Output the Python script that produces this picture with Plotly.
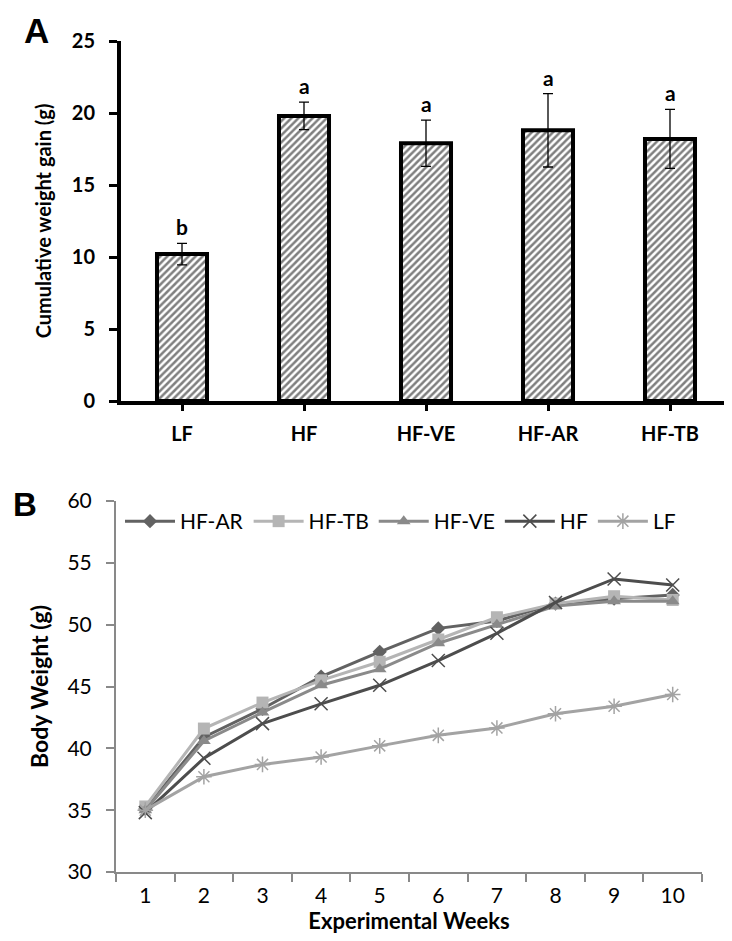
import plotly.graph_objects as go

# ---- Panel A data ----
categories = ["LF", "HF", "HF-VE", "HF-AR", "HF-TB"]
gain = [10.2, 19.8, 17.9, 18.8, 18.2]
gain_err = [0.75, 0.95, 1.6, 2.55, 2.05]
letters = ["b", "a", "a", "a", "a"]

# ---- Panel B data ----
weeks = ["1", "2", "3", "4", "5", "6", "7", "8", "9", "10"]
hf_ar = [35.1, 40.9, 43.2, 45.8, 47.8, 49.7, 50.3, 51.7, 52.1, 52.4]
hf_tb = [35.3, 41.6, 43.7, 45.5, 47.0, 48.8, 50.6, 51.7, 52.3, 52.0]
hf_ve = [35.0, 40.6, 42.9, 45.1, 46.4, 48.5, 50.0, 51.5, 51.9, 51.9]
hf = [34.8, 39.2, 42.0, 43.6, 45.1, 47.1, 49.3, 51.8, 53.7, 53.2]
lf = [35.0, 37.7, 38.7, 39.3, 40.2, 41.05, 41.65, 42.8, 43.4, 44.35]

W, H = 732, 941
FONT = "Lato"

fig = go.Figure()

fig.add_trace(go.Bar(
    x=categories, y=gain, xaxis="x", yaxis="y", width=0.41,
    marker=dict(color="white", line=dict(color="black", width=4),
                pattern=dict(shape="/", fgcolor="black", bgcolor="white", size=5, solidity=0.5)),
    error_y=dict(type="data", array=gain_err, color="black", thickness=1.3, width=5),
    showlegend=False,
))

series = [
    ("HF-AR", hf_ar, "#626262", dict(symbol="diamond", size=11, color="#626262")),
    ("HF-TB", hf_tb, "#b5b5b5", dict(symbol="square", size=12, color="#b5b5b5")),
    ("HF-VE", hf_ve, "#8a8a8a", dict(symbol="triangle-up", size=12, color="#8a8a8a")),
    ("HF", hf, "#4d4d4d", dict(symbol="x-thin-open", size=13, color="#4d4d4d", line=dict(color="#4d4d4d", width=1.5))),
    ("LF", lf, "#a3a3a3", dict(symbol="asterisk-open", size=13, color="#a3a3a3", line=dict(color="#a3a3a3", width=1.5))),
]
for name, vals, col, mk in series:
    fig.add_trace(go.Scatter(
        x=weeks, y=vals, name=name, xaxis="x2", yaxis="y2", mode="lines+markers",
        line=dict(color=col, width=3), marker=mk,
    ))

annotations = []
for c, v, e, t in zip(categories, gain, gain_err, letters):
    annotations.append(dict(x=c, y=v + e, xref="x", yref="y", text=t, showarrow=False,
                            yanchor="bottom", yshift=2,
                            font=dict(family=FONT, size=21, color="black", weight="bold")))
annotations.append(dict(x=weeks[-1], y=lf[-1], xref="x2", yref="y2", text="*", showarrow=False,
                        xanchor="left", xshift=8, yshift=-5,
                        font=dict(family=FONT, size=28, color="black", weight="bold")))
annotations.append(dict(x=14 / W, y=1 - 1 / H, xref="paper", yref="paper", text="A", showarrow=False,
                        xanchor="left", yanchor="top",
                        font=dict(family="Liberation Sans", size=35, color="black", weight="bold")))
annotations.append(dict(x=3 / W, y=1 - 476 / H, xref="paper", yref="paper", text="B", showarrow=False,
                        xanchor="left", yanchor="top",
                        font=dict(family="Liberation Sans", size=33, color="black", weight="bold")))

gray = "#898989"
fig.update_layout(
    width=W, height=H, margin=dict(l=0, r=0, t=0, b=0),
    paper_bgcolor="white", plot_bgcolor="white",
    font=dict(family=FONT, color="black"),
    xaxis=dict(domain=[113 / W, 723 / W], anchor="y", range=[-0.5, 4.5],
               showline=True, linecolor="black", linewidth=4, ticks="outside", ticklen=6, tickwidth=3,
               tickcolor="black", showgrid=False, zeroline=False, ticklabelstandoff=6,
               tickfont=dict(family=FONT, size=20, weight="bold"), automargin=False),
    yaxis=dict(domain=[1 - 393 / H, 1 - 33 / H], anchor="x", range=[0, 25], dtick=5,
               showline=True, linecolor="black", linewidth=4, ticks="outside", ticklen=8, tickwidth=3,
               tickcolor="black", showgrid=False, zeroline=False, ticklabelstandoff=10,
               tickfont=dict(family=FONT, size=20, weight="bold"), automargin=False,
               title=dict(text="Cumulative weight gain (g)", standoff=16,
                          font=dict(family=FONT, size=20, weight="bold"))),
    xaxis2=dict(domain=[108 / W, 694 / W], anchor="y2", type="category", range=[-0.5, 9.5],
                tickson="boundaries", showline=True, linecolor=gray, linewidth=2,
                ticks="outside", ticklen=8, tickwidth=2, tickcolor=gray, showgrid=False,
                ticklabelstandoff=4,
                tickfont=dict(family=FONT, size=21), automargin=False,
                title=dict(text="Experimental Weeks", standoff=2,
                           font=dict(family=FONT, size=22, weight="bold"))),
    yaxis2=dict(domain=[1 - 864 / H, 1 - 493 / H], anchor="x2", range=[30, 60], dtick=5,
                showline=True, linecolor=gray, linewidth=2, ticks="outside", ticklen=8, tickwidth=2,
                tickcolor=gray, showgrid=False, zeroline=False, ticklabelstandoff=10,
                tickfont=dict(family=FONT, size=21), automargin=False,
                title=dict(text="Body Weight (g)", standoff=12,
                           font=dict(family=FONT, size=23, weight="bold"))),
    legend=dict(orientation="h", x=112 / W, y=1 - 493 / H, xanchor="left", yanchor="top",
                font=dict(family=FONT, size=21), bgcolor="rgba(0,0,0,0)", itemwidth=50,
                tracegroupgap=0),
    annotations=annotations,
)

fig.write_html("out.html")
